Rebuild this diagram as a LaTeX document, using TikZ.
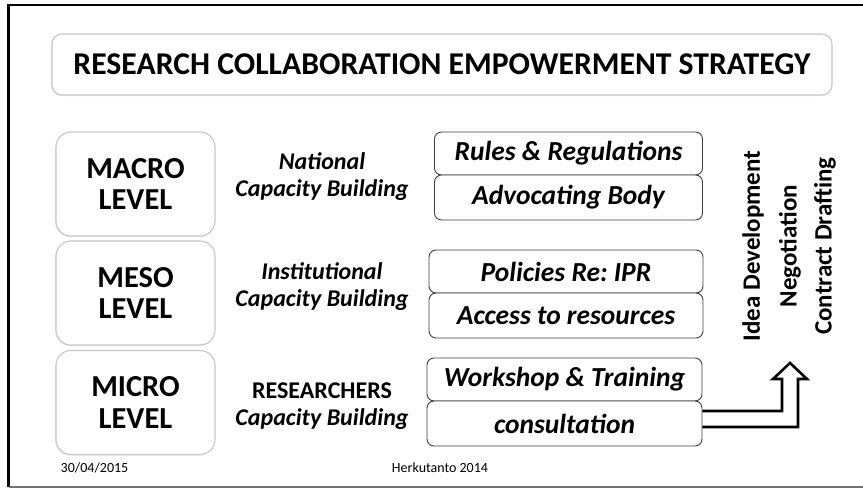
\documentclass[tikz,border=0pt]{standalone}
\usepackage{fontspec}
\setmainfont{Carlito}
\usetikzlibrary{shadows,calc}
\frenchspacing
\begin{document}
\begin{tikzpicture}[x=1pt,y=-1pt,
  softbox/.style={draw=black!22, line width=1.1pt, fill=white,
    drop shadow={opacity=0.18, shadow xshift=-0.8pt, shadow yshift=-1.2pt}},
  levelbox/.style={softbox, rounded corners=15pt, minimum width=159pt, minimum height=104pt,
    inner sep=0pt, align=center, font=\fontsize{30.5}{31.5}\selectfont\bfseries},
  itembox/.style={draw=black!75, line width=0.9pt, fill=white, rounded corners=7pt,
    minimum width=268pt, inner sep=0pt, font=\fontsize{27.5}{30}\selectfont\bfseries\itshape},
  midtext/.style={align=center, inner sep=0pt, font=\fontsize{24}{27}\selectfont\bfseries\itshape},
  vtext/.style={rotate=90, inner sep=0pt, font=\fontsize{25}{27}\selectfont\bfseries},
  foot/.style={inner sep=0pt, font=\fontsize{14}{16}\selectfont},
  arrowline/.style={draw=black, line width=2.6pt, line join=miter}]
\useasboundingbox (0,0) rectangle (863,489);
% frame
\draw[black, line width=2.5pt] (8.5,487) -- (8.5,5) -- (863,5);
\draw[black!55, line width=1.5pt] (8.5,487) -- (863,487);
% title
\node[softbox, rounded corners=10pt, minimum width=780pt, minimum height=61pt, inner sep=0pt,
  font=\fontsize{31.7}{33}\selectfont\bfseries] (title) at (442,64.5)
  {RESEARCH COLLABORATION EMPOWERMENT STRATEGY};
% level boxes
\node[levelbox] (macro) at (135.5,184) {MACRO\\LEVEL};
\node[levelbox] (meso) at (135.5,293) {MESO\\LEVEL};
\node[levelbox] (micro) at (135.5,402.5) {MICRO\\LEVEL};
% middle texts
\node[midtext] (nat) at (322,177) {National\\Capacity Building};
\node[midtext] (inst) at (322,287) {Institutional\\Capacity Building};
\node[midtext] (res) at (322,406) {{\upshape RESEARCHERS}\\Capacity Building};
% item boxes
\node[itembox, minimum height=43pt] (rules) at (568.5,153.5) {Rules \& Regulations};
\node[itembox, minimum height=45pt] (adv) at (568.5,197.5) {Advocating Body};
\node[itembox, minimum width=274pt, minimum height=43pt] (pol) at (566,271.5) {Policies Re: IPR};
\node[itembox, minimum width=274pt, minimum height=45pt] (acc) at (566,315.5) {Access to resources};
\node[itembox, minimum width=275pt, minimum height=43pt] (work) at (564.5,379.5) {Workshop \& Training};
\node[itembox, minimum width=275pt, minimum height=45pt] (cons) at (564.5,423.5) {consultation};
% vertical texts
\node[vtext] (idea) at (753,246) {Idea Development};
\node[vtext] (neg) at (790,246) {Negotiation};
\node[vtext] (con) at (825,246) {Contract Drafting};
% arrow
\draw[arrowline] (cons.east |- 0,411) -- (782,411) -- (782,379) -- (773,379) -- (790,363)
  -- (807,379) -- (798,379) -- (798,427) -- (cons.east |- 0,427);
% footer
\node[foot] (date) at (94.5,468) {30/04/2015};
\node[foot] (auth) at (440,468) {Herkutanto 2014};
\end{tikzpicture}
\end{document}
